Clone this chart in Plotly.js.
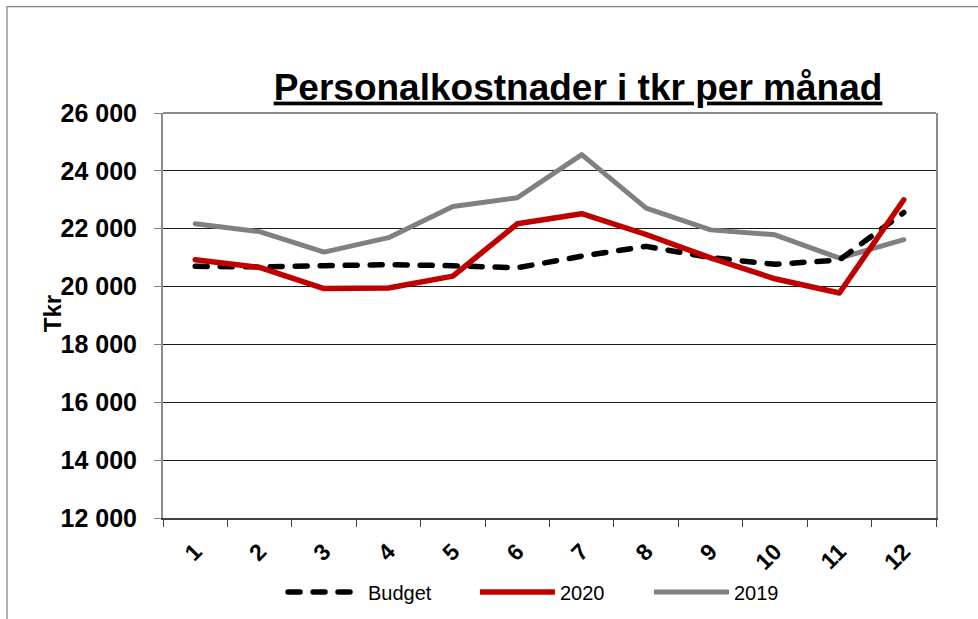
<!DOCTYPE html>
<html>
<head>
<meta charset="utf-8">
<script src="https://cdn.plot.ly/plotly-3.0.1.min.js"></script>
<style>
  html, body { margin: 0; padding: 0; background: #fff; }
  #chart { width: 978px; height: 619px; }
  .scatterlayer .js-line, .legend .js-line { stroke-linecap: round; stroke-linejoin: round; }
</style>
</head>
<body>
<div id="chart"></div>
<script>
var months = ["1","2","3","4","5","6","7","8","9","10","11","12"];
var budget = [20700, 20680, 20720, 20760, 20720, 20650, 21050, 21390, 21000, 20770, 20920, 22560];
var y2020  = [20930, 20660, 19930, 19950, 20360, 22170, 22520, 21800, 20990, 20270, 19780, 23000];
var y2019  = [22170, 21900, 21190, 21690, 22770, 23070, 24560, 22710, 21960, 21790, 20980, 21620];
var yTicks = [12000, 14000, 16000, 18000, 20000, 22000, 24000, 26000];
var titleText = "Personalkostnader i tkr per månad";
var yTitle = "Tkr";

var FONT = "Liberation Sans, Arial, Helvetica, sans-serif";

var traces = [
  {x: months, y: y2019, name: "2019", type: "scatter", mode: "lines",
   line: {color: "#808080", width: 5}, legend: "legend3"},
  {x: months, y: budget, name: "Budget", type: "scatter", mode: "lines",
   line: {color: "#000000", width: 5.5, dash: "12px,13px"}, legend: "legend"},
  {x: months, y: y2020, name: "2020", type: "scatter", mode: "lines",
   line: {color: "#C00000", width: 5.5}, legend: "legend2"}
];

function leg(x) {
  return {
    orientation: "h",
    x: x, xanchor: "left",
    y: -0.1825, yanchor: "middle",
    font: {family: FONT, size: 20, color: "#000"},
    itemwidth: 75,
    bgcolor: "rgba(0,0,0,0)",
    borderwidth: 0
  };
}
function px2paperX(px) { return (px - 163) / 773; }

var layout = {
  width: 978, height: 619,
  margin: {l: 163, r: 42, t: 112.5, b: 101, pad: 0, autoexpand: false},
  paper_bgcolor: "#fff", plot_bgcolor: "#fff",
  separators: ", ",
  showlegend: true,
  font: {family: FONT, color: "#000"},
  title: {
    text: "<b><u>" + titleText + "</u></b>",
    font: {family: FONT, size: 37, color: "#000"},
    xref: "container", x: 0.591, xanchor: "center",
    yref: "container", y: 0.86, yanchor: "middle"
  },
  xaxis: {
    type: "category",
    range: [-0.5, 11.5],
    automargin: false,
    tickson: "boundaries",
    ticks: "outside", ticklen: 7, tickwidth: 1, tickcolor: "#404040",
    ticklabelstandoff: 9,
    showline: true, linecolor: "#404040", linewidth: 2,
    showgrid: false, zeroline: false,
    tickangle: -45,
    tickfont: {family: FONT, size: 23, color: "#000", weight: "bold"},
    fixedrange: true
  },
  yaxis: {
    range: [12000, 26000],
    automargin: false,
    tickvals: yTicks,
    tickformat: ",d",
    ticks: "outside", ticklen: 7, tickwidth: 1, tickcolor: "#808080",
    ticklabelstandoff: 12,
    showline: true, mirror: true, linecolor: "#8c8c8c", linewidth: 2,
    showgrid: true, gridcolor: "#1a1a1a", gridwidth: 1,
    zeroline: false,
    tickfont: {family: FONT, size: 25, color: "#000", weight: "bold"},
    fixedrange: true
  },
  legend: leg(px2paperX(283)),
  legend2: leg(px2paperX(475)),
  legend3: leg(px2paperX(649)),
  annotations: [
    {text: "<b>" + yTitle + "</b>", xref: "paper", yref: "paper",
     x: px2paperX(52), y: (518 - 314) / 405.5, xanchor: "center", yanchor: "middle",
     textangle: -90, showarrow: false, font: {family: FONT, size: 24, color: "#000"}}
  ],
  shapes: [
    {type: "line", xref: "paper", yref: "paper", x0: 0, x1: 1, y0: 1, y1: 1,
     line: {color: "#8c8c8c", width: 2}},
    {type: "rect", xref: "paper", yref: "paper",
     x0: -0.2018, x1: 1.08, y0: -0.29, y1: 1.2627,
     line: {color: "#808080", width: 1.2}, fillcolor: "rgba(0,0,0,0)"}
  ]
};

Plotly.newPlot("chart", traces, layout, {staticPlot: true, displayModeBar: false});
</script>
</body>
</html>
